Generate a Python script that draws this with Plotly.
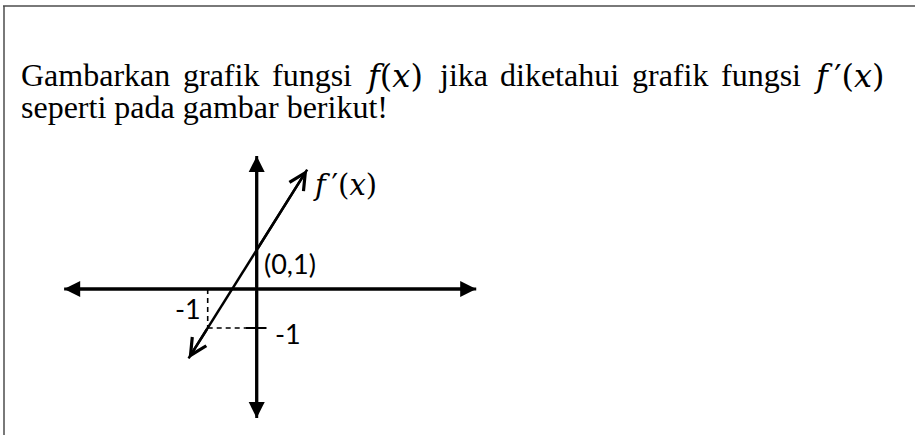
import plotly.graph_objects as go

# --- diagram data (units of the sketched coordinate plane) ---
x_axis_ends = [-3.93, 4.48]      # horizontal axis, arrow tip to arrow tip
y_axis_ends = [-3.31, 3.41]      # vertical axis, arrow tip to arrow tip
fprime_x = [-1.39, -1, 0, 1.03]  # line of f'(x), through (-1,-1) and (0,1)
fprime_y = [-1.78, -1, 1, 3.06]
guide_point = (-1, -1)
y_tick_ends = [-0.22, 0.2]       # short tick across the y-axis at y = -1

# --- question text ---
MATH = "font-family:'DejaVu Serif'"
FX = f"<span style=\"{MATH}\"><i>f</i>(<i>x</i>)</span>"
FPX = f"<span style=\"{MATH}\"><i>f</i>\u2009′(<i>x</i>)</span>"
line1_words = ["Gambarkan", "grafik", "fungsi", FX, "jika",
               "diketahui", "grafik", "fungsi", FPX]
line1_left = [20, 182, 271, 365, 438, 499, 631, 720, 813]
line2_text = "seperti pada gambar berikut!"

W, H = 915, 435
ORIGIN_PX = (256.7, 289.0)
UNIT_X, UNIT_Y = 49.0, 39.0


def paper_x(p):
    return p / W


def paper_y(p):
    return 1 - p / H


x_range = [-ORIGIN_PX[0] / UNIT_X, (W - ORIGIN_PX[0]) / UNIT_X]
y_range = [-(H - ORIGIN_PX[1]) / UNIT_Y, ORIGIN_PX[1] / UNIT_Y]

fig = go.Figure()

black_line = dict(color="black", width=3)

# coordinate axes
fig.add_trace(go.Scatter(x=x_axis_ends, y=[0, 0], mode="lines",
                         line=black_line, hoverinfo="skip"))
fig.add_trace(go.Scatter(x=[0, 0], y=y_axis_ends, mode="lines",
                         line=black_line, hoverinfo="skip"))

# dashed guides to the point (-1, -1)
gx, gy = guide_point
dashed = dict(color="black", width=1.6, dash="5px,4px")
fig.add_trace(go.Scatter(x=[gx, gx], y=[0, gy], mode="lines",
                         line=dashed, hoverinfo="skip"))
fig.add_trace(go.Scatter(x=[gx, 0], y=[gy, gy], mode="lines",
                         line=dashed, hoverinfo="skip"))
fig.add_trace(go.Scatter(x=y_tick_ends, y=[gy, gy], mode="lines",
                         line=dict(color="black", width=2), hoverinfo="skip"))

# the line f'(x)
fig.add_trace(go.Scatter(x=fprime_x, y=fprime_y, mode="lines",
                         line=dict(color="black", width=2.5), hoverinfo="skip"))

annotations = []


def arrow_head(tip, tail, head, width, size):
    annotations.append(dict(
        x=tip[0], y=tip[1], ax=tail[0], ay=tail[1],
        xref="x", yref="y", axref="x", ayref="y",
        text="", showarrow=True, arrowhead=head, arrowwidth=width,
        arrowsize=size, arrowcolor="black", standoff=0, startstandoff=0,
        font=dict(size=1)))


# filled heads on the axes
arrow_head((x_axis_ends[1], 0), (0, 0), 2, 3, 1.07)
arrow_head((x_axis_ends[0], 0), (0, 0), 2, 3, 1.07)
arrow_head((0, y_axis_ends[1]), (0, 0), 2, 3, 1.07)
arrow_head((0, y_axis_ends[0]), (0, 0), 2, 3, 1.07)

# open heads on both ends of f'(x)
arrow_head((fprime_x[-1], fprime_y[-1]), (fprime_x[-2], fprime_y[-2]), 5, 2.5, 1.3)
arrow_head((fprime_x[0], fprime_y[0]), (fprime_x[1], fprime_y[1]), 5, 2.5, 1.3)

label_font = dict(family="Lato, Open Sans, sans-serif", size=27, color="black")

annotations.append(dict(x=0, y=1, xref="x", yref="y", text="(0,1)",
                        showarrow=False, xanchor="left", yanchor="middle",
                        xshift=5, yshift=-13, font=label_font))
annotations.append(dict(x=gx, y=0, xref="x", yref="y", text="-1",
                        showarrow=False, xanchor="right", yanchor="middle",
                        xshift=-5, yshift=-19, font=label_font))
annotations.append(dict(x=0, y=gy, xref="x", yref="y", text="-1",
                        showarrow=False, xanchor="left", yanchor="middle",
                        xshift=16, yshift=-5, font=label_font))
annotations.append(dict(x=fprime_x[-1], y=fprime_y[-1], xref="x", yref="y",
                        text="<i>f</i>\u2009′(<i>x</i>)", showarrow=False,
                        xanchor="left", yanchor="middle", xshift=4, yshift=-15,
                        font=dict(family="DejaVu Serif, serif",
                                  size=29, color="black")))

# question text, line 1 spread across the full width
text_font = dict(family="Liberation Serif, Times New Roman, serif", size=32,
                 color="black")
for word, left in zip(line1_words, line1_left):
    annotations.append(dict(x=paper_x(left), y=paper_y(56), xref="paper",
                            yref="paper", text=word, showarrow=False,
                            xanchor="left", yanchor="top", borderpad=0,
                            font=text_font))
annotations.append(dict(x=paper_x(20), y=paper_y(88), xref="paper",
                        yref="paper", text=line2_text, showarrow=False,
                        xanchor="left", yanchor="top", borderpad=0,
                        font=text_font))

# frame lines along the top and left edges
frame = dict(color="#4d4d4d", width=1.5)
shapes = [
    dict(type="line", xref="paper", yref="paper", x0=paper_x(3), x1=1,
         y0=paper_y(6), y1=paper_y(6), line=frame),
    dict(type="line", xref="paper", yref="paper", x0=paper_x(4), x1=paper_x(4),
         y0=paper_y(6), y1=0, line=frame),
]

fig.update_layout(
    width=W, height=H,
    margin=dict(l=0, r=0, t=0, b=0),
    paper_bgcolor="white", plot_bgcolor="white",
    showlegend=False,
    xaxis=dict(range=x_range, visible=False, fixedrange=True),
    yaxis=dict(range=y_range, visible=False, fixedrange=True),
    annotations=annotations,
    shapes=shapes,
)

fig.write_html("out.html")
